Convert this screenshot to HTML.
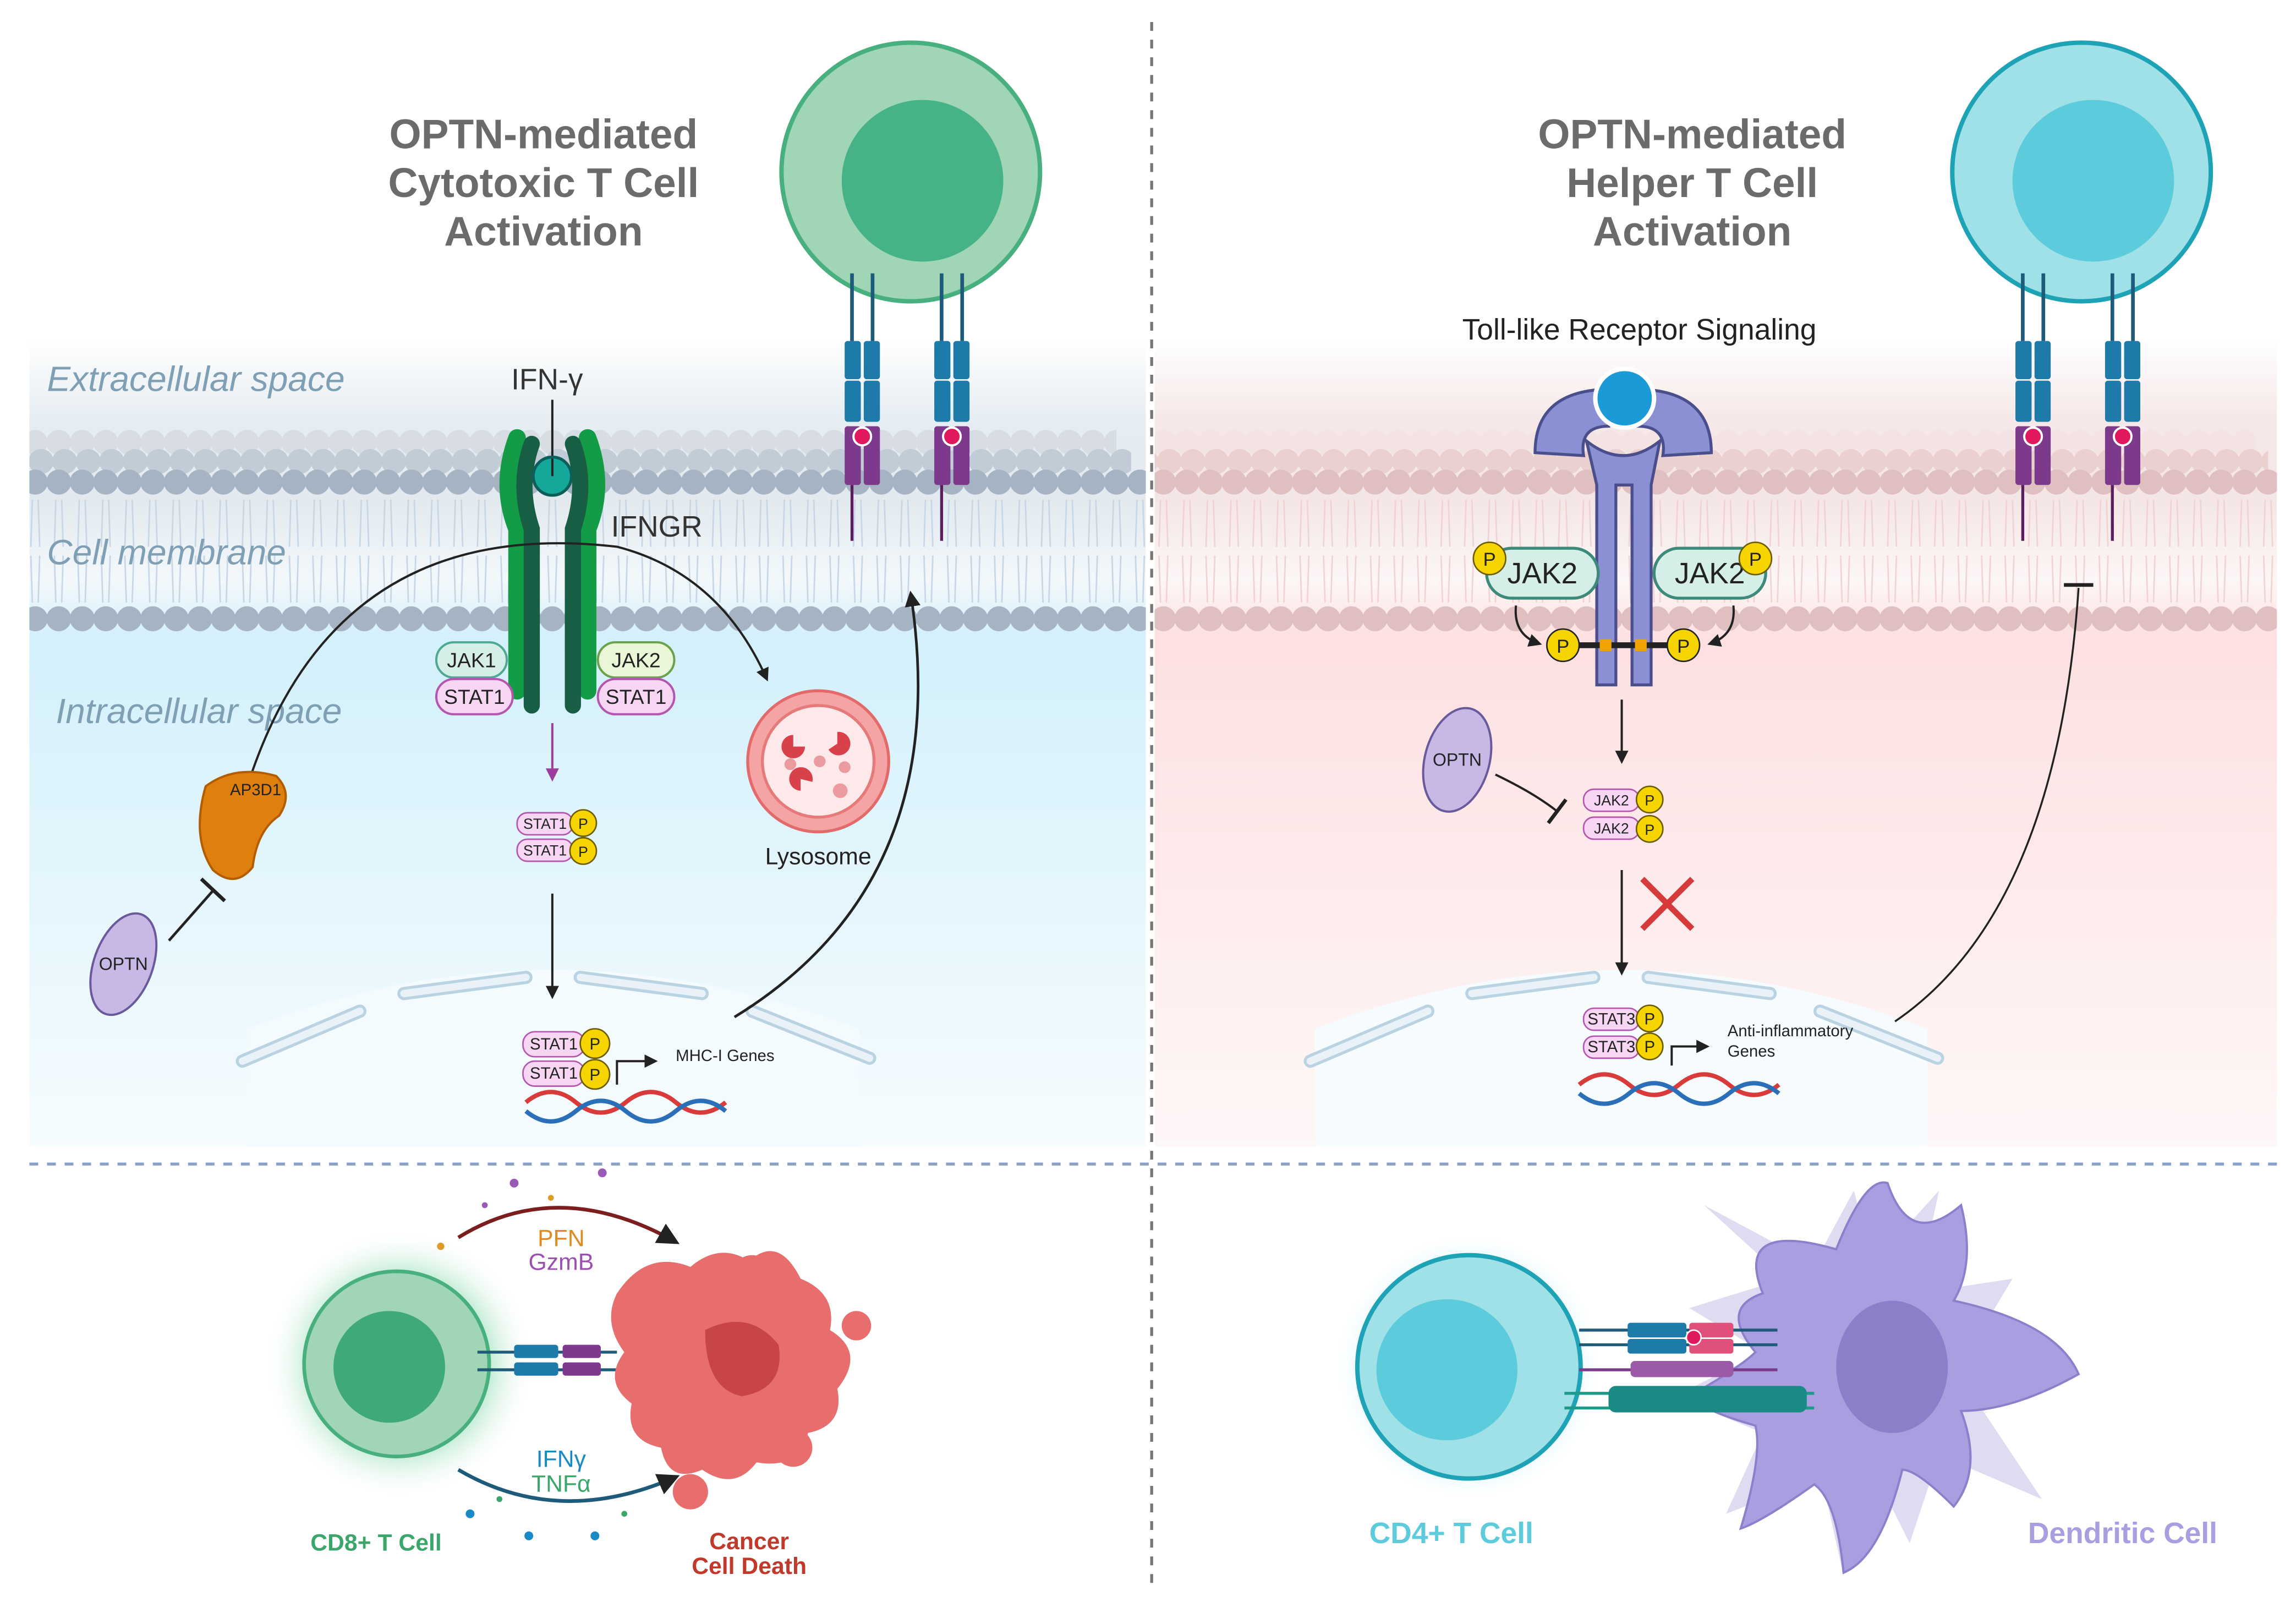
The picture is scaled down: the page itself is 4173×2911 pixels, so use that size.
<!DOCTYPE html>
<html><head><meta charset="utf-8"><style>
html,body{margin:0;padding:0;background:#fff}
svg{display:block}
text{font-family:"Liberation Sans",sans-serif}
</style></head><body>
<svg width="4173" height="2911" viewBox="0 0 1563 1090" preserveAspectRatio="none" xmlns="http://www.w3.org/2000/svg">
<defs>
<linearGradient id="gL" x1="0" y1="0" x2="0" y2="1">
<stop offset="0" stop-color="#ffffff"/><stop offset="0.1" stop-color="#e6edf2"/><stop offset="0.2" stop-color="#e2eaf0"/><stop offset="0.3" stop-color="#f3f8fb"/><stop offset="0.37" stop-color="#d3f0fb"/><stop offset="1" stop-color="#f6fcfe"/></linearGradient>
<linearGradient id="gR" x1="0" y1="0" x2="0" y2="1">
<stop offset="0" stop-color="#ffffff"/><stop offset="0.1" stop-color="#f6e8e8"/><stop offset="0.2" stop-color="#f4e6e6"/><stop offset="0.3" stop-color="#fdf6f6"/><stop offset="0.37" stop-color="#fde0e1"/><stop offset="1" stop-color="#fef7f7"/></linearGradient>
<pattern id="hBt" x="0" y="292" width="16" height="40" patternUnits="userSpaceOnUse"><circle cx="8" cy="9" r="8.5" fill="#d7dde3"/></pattern>
<pattern id="hBm" x="4" y="305" width="16" height="40" patternUnits="userSpaceOnUse"><circle cx="8" cy="9" r="8.5" fill="#c2ccd6"/></pattern>
<pattern id="hB1" x="0" y="319" width="16" height="40" patternUnits="userSpaceOnUse"><circle cx="8" cy="9" r="8.5" fill="#a5b3c2"/></pattern>
<pattern id="hB3" x="0" y="412" width="16" height="40" patternUnits="userSpaceOnUse"><circle cx="8" cy="9" r="8.5" fill="#a5b3c2"/></pattern>
<pattern id="hRt" x="0" y="292" width="16" height="40" patternUnits="userSpaceOnUse"><circle cx="8" cy="9" r="8.5" fill="#f4e3e3"/></pattern>
<pattern id="hRm" x="4" y="305" width="16" height="40" patternUnits="userSpaceOnUse"><circle cx="8" cy="9" r="8.5" fill="#ebd0d0"/></pattern>
<pattern id="hR1" x="0" y="319" width="16" height="40" patternUnits="userSpaceOnUse"><circle cx="8" cy="9" r="8.5" fill="#e0bfc0"/></pattern>
<pattern id="hR3" x="0" y="412" width="16" height="40" patternUnits="userSpaceOnUse"><circle cx="8" cy="9" r="8.5" fill="#e0bfc0"/></pattern>
<pattern id="tB" x="0" y="340" width="16" height="70" patternUnits="userSpaceOnUse"><path d="M6 0 L5 32 M10 0 L11 32 M5 38 L6 70 M11 38 L10 70" stroke="#c6d6e6" stroke-width="1" fill="none"/></pattern>
<pattern id="tR" x="0" y="340" width="16" height="70" patternUnits="userSpaceOnUse"><path d="M6 0 L5 32 M10 0 L11 32 M5 38 L6 70 M11 38 L10 70" stroke="#f1d2d2" stroke-width="1" fill="none"/></pattern>
<marker id="ar" viewBox="0 0 10 10" refX="8" refY="5" markerWidth="6" markerHeight="6" orient="auto"><path d="M0 0 L10 5 L0 10 z" fill="#222"/></marker>
<marker id="arp" viewBox="0 0 10 10" refX="8" refY="5" markerWidth="6" markerHeight="6" orient="auto"><path d="M0 0 L10 5 L0 10 z" fill="#9b3e9f"/></marker>
<radialGradient id="glowG"><stop offset="0.6" stop-color="#6fd19a"/><stop offset="1" stop-color="#fff" stop-opacity="0"/></radialGradient>
<radialGradient id="glowC"><stop offset="0.6" stop-color="#7ee0ee"/><stop offset="1" stop-color="#fff" stop-opacity="0"/></radialGradient>
</defs>

<!-- left panel background -->
<rect x="20" y="230" width="760" height="550" fill="url(#gL)"/>
<rect x="20" y="340" width="760" height="70" fill="url(#tB)"/>
<rect x="20" y="292" width="740" height="20" fill="url(#hBt)"/>
<rect x="20" y="305" width="750" height="20" fill="url(#hBm)"/>
<rect x="20" y="319" width="760" height="19" fill="url(#hB1)"/>
<rect x="20" y="412" width="760" height="19" fill="url(#hB3)"/>
<!-- right panel background -->
<rect x="786" y="230" width="764" height="550" fill="url(#gR)"/>
<rect x="786" y="340" width="764" height="70" fill="url(#tR)"/>
<rect x="786" y="292" width="750" height="20" fill="url(#hRt)"/>
<rect x="786" y="305" width="758" height="20" fill="url(#hRm)"/>
<rect x="786" y="319" width="764" height="19" fill="url(#hR1)"/>
<rect x="786" y="412" width="764" height="19" fill="url(#hR3)"/>

<!-- nuclei -->
<path d="M168 780 L168 700 Q375 620 585 700 L585 780 Z" fill="#f3fbfe"/>
<path d="M895 780 L895 700 Q1103 620 1312 700 L1312 780 Z" fill="#f6fcfe"/>
<g stroke="#b9d3e2" stroke-width="9" stroke-linecap="round" fill="none">
<path d="M165 722 L245 688"/><path d="M275 676 L358 665"/><path d="M395 665 L478 676"/><path d="M512 688 L592 720"/>
<path d="M892 722 L972 688"/><path d="M1002 676 L1085 665"/><path d="M1122 665 L1205 676"/><path d="M1239 688 L1319 720"/>
</g>
<g stroke="#e8f2f8" stroke-width="5" stroke-linecap="round" fill="none">
<path d="M165 722 L245 688"/><path d="M275 676 L358 665"/><path d="M395 665 L478 676"/><path d="M512 688 L592 720"/>
<path d="M892 722 L972 688"/><path d="M1002 676 L1085 665"/><path d="M1122 665 L1205 676"/><path d="M1239 688 L1319 720"/>
</g>

<!-- dashed dividers -->
<line x1="784" y1="15" x2="784" y2="1082" stroke="#777" stroke-width="2" stroke-dasharray="6 6"/>
<line x1="20" y1="792" x2="1550" y2="792" stroke="#8aa0c8" stroke-width="2" stroke-dasharray="6 6"/>

<!-- titles -->
<g font-weight="bold" font-size="28" fill="#6b6b6b" text-anchor="middle">
<text x="370" y="101">OPTN-mediated</text><text x="370" y="134">Cytotoxic T Cell</text><text x="370" y="167">Activation</text>
<text x="1152" y="101">OPTN-mediated</text><text x="1152" y="134">Helper T Cell</text><text x="1152" y="167">Activation</text>
</g>
<g font-style="italic" font-size="24" fill="#7f9fb5">
<text x="32" y="266">Extracellular space</text>
<text x="32" y="384">Cell membrane</text>
<text x="38" y="492">Intracellular space</text>
</g>

<!-- top T cells -->
<circle cx="620" cy="117" r="88" fill="#a0d6b5" stroke="#48b07f" stroke-width="3"/>
<circle cx="628" cy="123" r="55" fill="#46b386"/>
<circle cx="1417" cy="117" r="88" fill="#a0e1e8" stroke="#1ea3b6" stroke-width="3"/>
<circle cx="1425" cy="123" r="55" fill="#5ccbdc"/>

<!-- TCRs -->
<g id="tcr">
<path d="M580 186 V232 M594 186 V232" stroke="#1e5a7a" stroke-width="2.5"/>
<rect x="575" y="232" width="11" height="26" rx="2" fill="#1e7aa8"/><rect x="588" y="232" width="11" height="26" rx="2" fill="#1e7aa8"/>
<rect x="575" y="259" width="11" height="28" rx="2" fill="#1e7aa8"/><rect x="588" y="259" width="11" height="28" rx="2" fill="#1e7aa8"/>
<rect x="575" y="290" width="11" height="40" rx="2" fill="#7d3a8c"/><rect x="588" y="290" width="11" height="40" rx="2" fill="#7d3a8c"/>
<circle cx="587" cy="297" r="6" fill="#e0185e" stroke="#fff" stroke-width="1.5"/>
<line x1="580" y1="330" x2="580" y2="368" stroke="#5a1e5e" stroke-width="2"/>
</g>
<use href="#tcr" x="61"/>
<use href="#tcr" x="797"/>
<use href="#tcr" x="858"/>

<!-- IFNGR -->
<text x="348" y="265" font-size="20" fill="#333">IFN-γ</text>
<line x1="376" y1="272" x2="376" y2="318" stroke="#222" stroke-width="1.5"/>
<path d="M352 298 Q340 330 352 360 L352 470 M400 298 Q412 330 400 360 L400 470" stroke="#149b45" stroke-width="12" fill="none" stroke-linecap="round"/>
<path d="M362 302 Q352 330 362 360 L362 480 M390 302 Q400 330 390 360 L390 480" stroke="#185e45" stroke-width="11" fill="none" stroke-linecap="round"/>
<circle cx="376" cy="324" r="13" fill="#14a89a" stroke="#0b5f58" stroke-width="2"/>
<line x1="376" y1="312" x2="376" y2="324" stroke="#222" stroke-width="1.5"/>
<text x="416" y="365" font-size="20" fill="#333">IFNGR</text>
<g font-size="14" fill="#222" text-anchor="middle">
<rect x="297" y="437" width="48" height="24" rx="12" fill="#d5efe8" stroke="#4ea893" stroke-width="1.5"/><text x="321" y="454">JAK1</text>
<rect x="297" y="462" width="52" height="24" rx="12" fill="#f6d6f2" stroke="#b257ad" stroke-width="1.5"/><text x="323" y="479">STAT1</text>
<rect x="407" y="437" width="52" height="24" rx="12" fill="#e9f6d8" stroke="#6aa24b" stroke-width="1.5"/><text x="433" y="454">JAK2</text>
<rect x="407" y="462" width="52" height="24" rx="12" fill="#f6d6f2" stroke="#b257ad" stroke-width="1.5"/><text x="433" y="479">STAT1</text>
</g>
<line x1="376" y1="492" x2="376" y2="530" stroke="#9b3e9f" stroke-width="1.5" marker-end="url(#arp)"/>
<g font-size="10" fill="#222" text-anchor="middle">
<rect x="352" y="553" width="38" height="15" rx="7" fill="#f6d6f2" stroke="#b257ad"/><text x="371" y="564">STAT1</text>
<rect x="352" y="571" width="38" height="15" rx="7" fill="#f6d6f2" stroke="#b257ad"/><text x="371" y="582">STAT1</text>
<circle cx="397" cy="560" r="9" fill="#f5d400" stroke="#6b5c00"/><text x="397" y="564">P</text>
<circle cx="397" cy="579" r="9" fill="#f5d400" stroke="#6b5c00"/><text x="397" y="583">P</text>
</g>
<line x1="376" y1="608" x2="376" y2="678" stroke="#222" stroke-width="1.5" marker-end="url(#ar)"/>
<g font-size="11" fill="#222" text-anchor="middle">
<rect x="356" y="702" width="42" height="17" rx="8" fill="#f6d6f2" stroke="#b257ad"/><text x="377" y="714">STAT1</text>
<rect x="356" y="722" width="42" height="17" rx="8" fill="#f6d6f2" stroke="#b257ad"/><text x="377" y="734">STAT1</text>
<circle cx="405" cy="710" r="10" fill="#f5d400" stroke="#6b5c00"/><text x="405" y="714">P</text>
<circle cx="405" cy="731" r="10" fill="#f5d400" stroke="#6b5c00"/><text x="405" y="735">P</text>
</g>
<path d="M420 738 V722 H446" stroke="#222" stroke-width="1.5" fill="none" marker-end="url(#ar)"/>
<text x="460" y="722" font-size="11" fill="#222">MHC-I Genes</text>
<g fill="none" stroke-width="3">
<path d="M358 750 q17 -14 34 0 t34 0 t34 0 t34 0" stroke="#d93a3a"/>
<path d="M358 756 q17 14 34 0 t34 0 t34 0 t34 0" stroke="#2b6fb8"/>
</g>
<path d="M170 530 Q230 350 420 372 Q490 390 522 462" stroke="#222" stroke-width="1.5" fill="none" marker-end="url(#ar)"/>
<path d="M500 692 Q650 600 620 404" stroke="#222" stroke-width="1.8" fill="none" marker-end="url(#ar)"/>
<circle cx="557" cy="518" r="48" fill="#f4a4a4" stroke="#e26a6a" stroke-width="2"/>
<circle cx="557" cy="518" r="38" fill="#fde8ea" stroke="#e67a7a" stroke-width="2"/>
<g fill="#d9414a"><path d="M540 500 a8 8 0 1 0 8 8 l-8 0 z"/><path d="M570 498 a8 8 0 1 1 -6 12 l6 -4 z"/><path d="M545 538 a8 8 0 1 1 8 -6 l-8 -2 z"/></g>
<g fill="#eb9ba0"><circle cx="558" cy="518" r="4"/><circle cx="538" cy="520" r="4"/><circle cx="575" cy="522" r="4"/><circle cx="572" cy="538" r="5"/></g>
<text x="557" y="588" font-size="16" fill="#222" text-anchor="middle">Lysosome</text>
<path d="M140 535 Q160 520 188 528 Q200 540 190 555 Q175 565 172 590 Q160 605 145 592 Q130 570 140 535 Z" fill="#df7f0d" stroke="#b25e00" stroke-width="1.5"/>
<text x="174" y="541" font-size="11" fill="#222" text-anchor="middle">AP3D1</text>
<line x1="115" y1="640" x2="145" y2="606" stroke="#222" stroke-width="1.8"/>
<line x1="137" y1="598" x2="153" y2="613" stroke="#222" stroke-width="2.5"/>
<ellipse cx="84" cy="656" rx="20" ry="36" transform="rotate(20 84 656)" fill="#c7b8e5" stroke="#6a5a9c" stroke-width="1.5"/>
<text x="84" y="660" font-size="12" fill="#222" text-anchor="middle">OPTN</text>

<!-- Right: TLR -->
<text x="1116" y="231" font-size="20" fill="#222" text-anchor="middle">Toll-like Receptor Signaling</text>
<path d="M1045 308 Q1045 268 1090 265 L1095 290 Q1075 290 1078 310 Z" fill="#8b90d4" stroke="#4a4f8c" stroke-width="2"/>
<path d="M1165 308 Q1165 268 1120 265 L1115 290 Q1135 290 1132 310 Z" fill="#8b90d4" stroke="#4a4f8c" stroke-width="2"/>
<path d="M1080 300 Q1105 320 1130 300 L1124 330 L1124 466 L1111 466 L1111 330 L1100 330 L1100 466 L1087 466 L1087 330 Z" fill="#8b90d4" stroke="#4a4f8c" stroke-width="2"/>
<circle cx="1106" cy="271" r="20" fill="#1a9ad6" stroke="#fff" stroke-width="3"/>
<g font-size="20" fill="#222" text-anchor="middle">
<rect x="1012" y="373" width="76" height="34" rx="17" fill="#d5efe8" stroke="#3d8a7a" stroke-width="2"/><text x="1050" y="397">JAK2</text>
<rect x="1126" y="373" width="76" height="34" rx="17" fill="#d5efe8" stroke="#3d8a7a" stroke-width="2"/><text x="1164" y="397">JAK2</text>
</g>
<g font-size="13" fill="#222" text-anchor="middle">
<circle cx="1014" cy="380" r="11" fill="#f5d400" stroke="#6b5c00"/><text x="1014" y="385">P</text>
<circle cx="1195" cy="380" r="11" fill="#f5d400" stroke="#6b5c00"/><text x="1195" y="385">P</text>
</g>
<line x1="1072" y1="439" x2="1137" y2="439" stroke="#222" stroke-width="4"/>
<rect x="1089" y="435" width="8" height="8" fill="#f2a300"/><rect x="1113" y="435" width="8" height="8" fill="#f2a300"/>
<g font-size="13" fill="#222" text-anchor="middle">
<circle cx="1064" cy="439" r="11" fill="#f5d400" stroke="#222"/><text x="1064" y="444">P</text>
<circle cx="1146" cy="439" r="11" fill="#f5d400" stroke="#222"/><text x="1146" y="444">P</text>
</g>
<path d="M1032 412 Q1030 432 1048 438" stroke="#222" stroke-width="1.5" fill="none" marker-end="url(#ar)"/>
<path d="M1180 412 Q1182 432 1164 438" stroke="#222" stroke-width="1.5" fill="none" marker-end="url(#ar)"/>
<line x1="1104" y1="476" x2="1104" y2="518" stroke="#222" stroke-width="1.5" marker-end="url(#ar)"/>
<g font-size="10" fill="#222" text-anchor="middle">
<rect x="1078" y="537" width="38" height="15" rx="7" fill="#f6d6f2" stroke="#b257ad"/><text x="1097" y="548">JAK2</text>
<rect x="1078" y="556" width="38" height="15" rx="7" fill="#f6d6f2" stroke="#b257ad"/><text x="1097" y="567">JAK2</text>
<circle cx="1123" cy="544" r="9" fill="#f5d400" stroke="#6b5c00"/><text x="1123" y="548">P</text>
<circle cx="1123" cy="564" r="9" fill="#f5d400" stroke="#6b5c00"/><text x="1123" y="568">P</text>
</g>
<ellipse cx="992" cy="517" rx="22" ry="36" transform="rotate(15 992 517)" fill="#c7b8e5" stroke="#6a5a9c" stroke-width="1.5"/>
<text x="992" y="521" font-size="12" fill="#222" text-anchor="middle">OPTN</text>
<path d="M1018 527 Q1045 540 1060 552" stroke="#222" stroke-width="1.5" fill="none"/>
<line x1="1054" y1="560" x2="1066" y2="544" stroke="#222" stroke-width="2.5"/>
<line x1="1104" y1="592" x2="1104" y2="662" stroke="#222" stroke-width="1.5" marker-end="url(#ar)"/>
<path d="M1118 598 L1152 632 M1152 598 L1118 632" stroke="#d63a3a" stroke-width="4"/>
<g font-size="11" fill="#222" text-anchor="middle">
<rect x="1078" y="686" width="38" height="15" rx="7" fill="#f6d6f2" stroke="#b257ad"/><text x="1097" y="697">STAT3</text>
<rect x="1078" y="705" width="38" height="15" rx="7" fill="#f6d6f2" stroke="#b257ad"/><text x="1097" y="716">STAT3</text>
<circle cx="1123" cy="693" r="9" fill="#f5d400" stroke="#6b5c00"/><text x="1123" y="697">P</text>
<circle cx="1123" cy="712" r="9" fill="#f5d400" stroke="#6b5c00"/><text x="1123" y="716">P</text>
</g>
<path d="M1138 725 V712 H1162" stroke="#222" stroke-width="1.5" fill="none" marker-end="url(#ar)"/>
<text x="1176" y="705" font-size="11" fill="#222">Anti-inflammatory</text>
<text x="1176" y="719" font-size="11" fill="#222">Genes</text>
<g fill="none" stroke-width="3">
<path d="M1075 738 q17 -14 34 0 t34 0 t34 0 t34 0" stroke="#d93a3a"/>
<path d="M1075 744 q17 14 34 0 t34 0 t34 0 t34 0" stroke="#2b6fb8"/>
</g>
<path d="M1290 695 Q1400 620 1415 400" stroke="#222" stroke-width="1.3" fill="none"/>
<line x1="1405" y1="398" x2="1425" y2="398" stroke="#222" stroke-width="2.5"/>

<!-- Bottom left -->
<circle cx="272" cy="928" r="92" fill="url(#glowG)" opacity="0.6"/>
<circle cx="270" cy="928" r="63" fill="#a0d6b5" stroke="#48b07f" stroke-width="2.5"/>
<circle cx="265" cy="930" r="38" fill="#3fa97a"/>
<g stroke="#1e5a7a" stroke-width="2"><line x1="325" y1="920" x2="420" y2="920"/><line x1="325" y1="932" x2="420" y2="932"/></g>
<rect x="350" y="915" width="30" height="9" rx="2" fill="#1e7aa8"/><rect x="350" y="927" width="30" height="9" rx="2" fill="#1e7aa8"/>
<rect x="383" y="915" width="26" height="9" rx="2" fill="#7d3a8c"/><rect x="383" y="927" width="26" height="9" rx="2" fill="#7d3a8c"/>
<path d="M420 880 Q440 850 470 862 Q490 845 510 858 Q530 840 545 870 Q570 880 565 905 Q590 920 570 945 Q575 970 550 975 Q545 1000 515 995 Q500 1015 478 1000 Q455 1010 450 985 Q425 980 430 955 Q410 940 425 920 Q410 900 420 880 Z" fill="#e86d6d"/>
<circle cx="512" cy="868" r="14" fill="#e86d6d"/><circle cx="470" cy="1015" r="12" fill="#e86d6d"/><circle cx="540" cy="985" r="13" fill="#e86d6d"/><circle cx="583" cy="902" r="10" fill="#e86d6d"/>
<path d="M480 905 Q510 890 530 915 Q535 945 505 950 Q480 945 480 905 Z" fill="#c84545"/>
<path d="M312 842 Q380 800 460 845" stroke="#7a1e1e" stroke-width="2.5" fill="none" marker-end="url(#ar)"/>
<path d="M312 1000 Q380 1040 460 1005" stroke="#1e5a7a" stroke-width="2.5" fill="none" marker-end="url(#ar)"/>
<g fill="#9b59b6"><circle cx="350" cy="805" r="3"/><circle cx="410" cy="798" r="3"/><circle cx="330" cy="820" r="2"/><circle cx="300" cy="848" r="2.5" fill="#e09a2a"/><circle cx="375" cy="815" r="2" fill="#e09a2a"/></g>
<g fill="#1a8ac6"><circle cx="320" cy="1030" r="3"/><circle cx="360" cy="1045" r="3"/><circle cx="405" cy="1045" r="3"/><circle cx="340" cy="1020" r="2" fill="#3aa66a"/><circle cx="425" cy="1030" r="2" fill="#3aa66a"/></g>
<g font-size="16" text-anchor="middle">
<text x="382" y="848" fill="#e08a20">PFN</text><text x="382" y="864" fill="#9b4fb0">GzmB</text>
<text x="382" y="998" fill="#1a8ac6">IFNγ</text><text x="382" y="1015" fill="#3aa66a">TNFα</text>
</g>
<g font-size="16" font-weight="bold" text-anchor="middle">
<text x="256" y="1055" fill="#3aa66a">CD8+ T Cell</text>
<text x="510" y="1054" fill="#c0392b">Cancer</text><text x="510" y="1071" fill="#c0392b">Cell Death</text>
</g>

<!-- Bottom right -->
<path d="M1215 870 L1160 820 L1235 860 L1262 810 L1275 860 L1320 810 L1305 880 L1370 870 L1340 920 L1415 935 L1350 960 L1390 1020 L1320 990 L1300 1050 L1275 1000 L1255 1072 L1240 1005 L1175 1030 L1200 975 L1140 950 L1200 920 L1150 890 Z" fill="#e0dbf0"/>
<path d="M1200 880 Q1180 830 1250 850 Q1270 800 1285 805 Q1300 850 1335 820 Q1345 860 1330 885 Q1400 900 1415 935 Q1370 960 1335 960 Q1350 1000 1330 1025 Q1305 1000 1295 1000 Q1280 1060 1255 1070 Q1250 1020 1235 1010 Q1200 1035 1185 1040 Q1200 990 1195 970 Q1160 960 1150 950 Q1185 930 1195 920 Q1170 890 1200 880 Z" fill="#a99ee0" stroke="#8a80cc" stroke-width="1.5"/>
<ellipse cx="1288" cy="930" rx="38" ry="45" fill="#8b7fc9"/>
<circle cx="1000" cy="930" r="92" fill="url(#glowC)" opacity="0.7"/>
<circle cx="1000" cy="930" r="76" fill="#a0e1e8" stroke="#1ea3b6" stroke-width="3"/>
<circle cx="985" cy="932" r="48" fill="#5ccbdc"/>
<g stroke="#1e5a7a" stroke-width="2"><line x1="1075" y1="905" x2="1210" y2="905"/><line x1="1075" y1="915" x2="1210" y2="915"/></g>
<rect x="1108" y="900" width="40" height="10" rx="2" fill="#1e7aa8"/><rect x="1108" y="911" width="40" height="10" rx="2" fill="#1e7aa8"/>
<rect x="1150" y="900" width="30" height="10" rx="2" fill="#e0507a"/><rect x="1150" y="911" width="30" height="10" rx="2" fill="#e0507a"/>
<circle cx="1153" cy="910" r="5" fill="#e0185e" stroke="#fff"/>
<g stroke="#7d3a8c" stroke-width="2"><line x1="1075" y1="932" x2="1210" y2="932"/></g>
<rect x="1110" y="926" width="70" height="11" rx="3" fill="#9b5aa6"/>
<g stroke="#1e9a8a" stroke-width="2"><line x1="1065" y1="948" x2="1235" y2="948"/><line x1="1065" y1="958" x2="1235" y2="958"/></g>
<rect x="1095" y="943" width="135" height="18" rx="5" fill="#1a8a84"/>
<g font-size="20" font-weight="bold" text-anchor="middle">
<text x="988" y="1050" fill="#5ccbdc">CD4+ T Cell</text>
<text x="1445" y="1050" fill="#a99ee0">Dendritic Cell</text>
</g>
</svg>
</body></html>
